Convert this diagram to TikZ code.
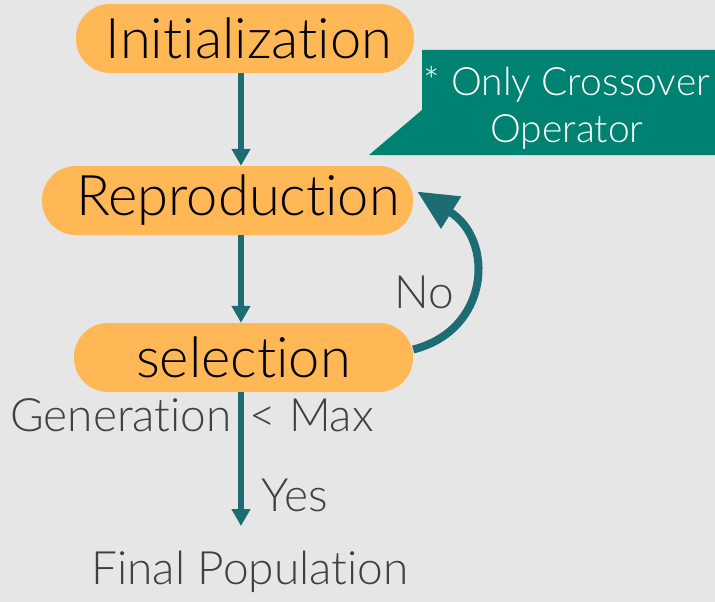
\documentclass[tikz,border=0pt]{standalone}
\usepackage{fontspec}
\setmainfont{Lato}[UprightFont={* Light}, Ligatures={NoCommon,NoContextual}]
\usetikzlibrary{arrows.meta}
\definecolor{bggray}{HTML}{E7E6E6}
\definecolor{boxorange}{HTML}{FFB855}
\definecolor{arrowteal}{HTML}{1D6B73}
\definecolor{notegreen}{HTML}{008272}
\definecolor{labelgray}{HTML}{404040}
\begin{document}
\begin{tikzpicture}[x=1pt, y=-1pt,
  stage/.style={fill=boxorange, rounded corners=34pt, minimum height=69pt, inner sep=0pt, font=\fontsize{56}{56}\selectfont},
  flow/.style={draw=arrowteal, line width=6pt, -{Triangle[length=17pt,width=18pt]}},
  label/.style={text=labelgray, inner sep=0pt, font=\fontsize{46}{46}\selectfont}]
\useasboundingbox[fill=bggray] (0,0) rectangle (715,602);
\coordinate (axis) at (241,0);
\node[stage, minimum width=338pt] (init) at (245,38.5) {\hspace{8pt}Initialization};
\node[stage, minimum width=371pt] (repro) at (227.5,200.5) {\hspace{21pt}Reproduction};
\node[stage, minimum width=339pt] (sel) at (243.5,357.5) {selection};
% note
\fill[notegreen] (422,50) -- (715,50) -- (715,155) -- (369,155) -- (422,110) -- cycle;
\node[text=white, align=center, inner sep=0pt, font=\fontsize{39}{47}\selectfont] (note) at (567,108) {* Only Crossover\\Operator};
% labels
\node[label, anchor=west] (cond) at (10,415) {Generation\hspace{18pt}< Max};
\node[label] (yes) at (295,495) {Yes};
\node[label] (no) at (424,292) {No};
\node[label] (final) at (250,572) {Final Population};
% arrows
\draw[flow] (init.south -| axis) -- (repro.north -| axis);
\draw[flow] (repro.south -| axis) -- (sel.north -| axis);
\draw[flow, shorten >=25pt] (sel.south -| axis) -- (final.north -| axis);
\draw[arrowteal, line width=8pt, -{Triangle[length=40pt,width=36pt]}]
  ([yshift=8pt]sel.east) .. controls (490,330) and (495,240) .. ([shift={(4,-9)}]repro.east);
\end{tikzpicture}
\end{document}
